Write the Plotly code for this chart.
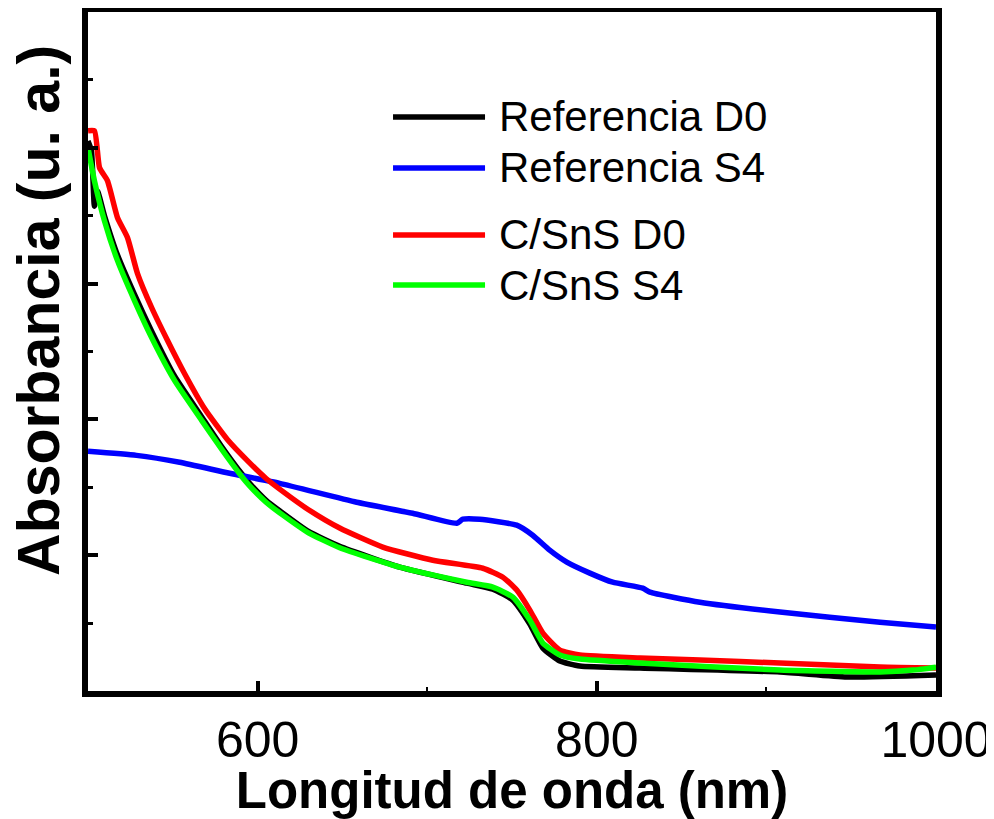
import plotly.graph_objects as go

# ---- data ----
series_names = ["Referencia D0", "Referencia S4", "C/SnS D0", "C/SnS S4"]
series_colors = ["#000000", "#0000FF", "#FF0000", "#00FF00"]

ref_d0_x = [500, 502, 503.8, 505.6, 509.7, 517.4, 527.4, 537.5, 551, 567, 578.8, 590.3, 595.3, 605,
            614.9, 630, 648.4, 683.8, 723.3, 738.7, 750.5, 760.5, 768.2, 778.2, 790, 825.4, 908,
            947.5, 1000]
ref_d0_y = [4.05, 3.98, 3.57, 3.68, 3.5, 3.21, 2.92, 2.65, 2.32, 2.02, 1.80, 1.605, 1.53, 1.405,
            1.31, 1.175, 1.065, 0.912, 0.794, 0.75, 0.669, 0.493, 0.316, 0.221, 0.184, 0.169, 0.14,
            0.103, 0.118]

ref_s4_x = [500, 528.6, 554, 583.5, 613, 658.4, 691.4, 717.4, 721, 731, 752.8, 762.2, 772.2,
            782.3, 795.9, 809.4, 827.1, 831.3, 860.8, 908, 967, 1000]
ref_s4_y = [1.765, 1.735, 1.684, 1.603, 1.529, 1.39, 1.309, 1.235, 1.265, 1.265, 1.221, 1.147, 1.037,
            0.949, 0.868, 0.801, 0.757, 0.728, 0.654, 0.581, 0.507, 0.471]

csns_d0_x = [500, 503.8, 506.8, 511.5, 517.4, 523.3, 529.2, 537.5, 546.9, 556.9, 568.7, 582.3,
             595.3, 605, 614.8, 630, 648.4, 673.8, 703.3, 732.8, 744.6, 752.8, 760.5, 768.2, 778.2,
             790, 825.4, 860.8, 908, 967, 1000]
csns_d0_y = [4.125, 4.125, 3.853, 3.757, 3.485, 3.338, 3.074, 2.824, 2.581, 2.338, 2.08, 1.85,
             1.68, 1.565, 1.47, 1.335, 1.2, 1.06, 0.963, 0.904, 0.838, 0.743, 0.596, 0.426, 0.301,
             0.265, 0.243, 0.228, 0.206, 0.176, 0.169]

csns_s4_x = [500, 503.8, 509.7, 517.4, 527.4, 537.5, 551, 567, 578.8, 590.3, 595.3, 605, 614.9, 630,
             648.4, 683.8, 723.3, 738.7, 750.5, 760.5, 768.2, 778.2, 790, 825.4, 908, 967, 986.4, 1000]
csns_s4_y = [4.0, 3.757, 3.463, 3.169, 2.875, 2.603, 2.287, 1.993, 1.78, 1.585, 1.51, 1.39, 1.295,
             1.165, 1.055, 0.912, 0.801, 0.765, 0.691, 0.522, 0.353, 0.265, 0.235, 0.206, 0.154,
             0.14, 0.154, 0.176]

x_tick_vals = [600, 800, 1000]
x_tick_text = ["600", "800", "1000"]

FONT = "Liberation Sans, Arial, sans-serif"

fig = go.Figure()
all_x = [ref_d0_x, ref_s4_x, csns_d0_x, csns_s4_x]
all_y = [ref_d0_y, ref_s4_y, csns_d0_y, csns_s4_y]
for name, color, xs, ys in zip(series_names, series_colors, all_x, all_y):
    fig.add_trace(go.Scatter(x=xs, y=ys, mode="lines", name=name,
                             line=dict(color=color, width=5.5, shape="spline", smoothing=0.5),
                             showlegend=False))

# manual legend (long line samples like the reference)
legend_y = [0.8454, 0.7703, 0.6716, 0.5979]
for name, color, ly in zip(series_names, series_colors, legend_y):
    fig.add_shape(type="line", xref="paper", yref="paper", x0=0.3597, x1=0.4682, y0=ly, y1=ly,
                  line=dict(color=color, width=5.5))
    fig.add_annotation(xref="paper", yref="paper", x=0.4823, y=ly, text=name, showarrow=False,
                       xanchor="left", yanchor="middle", font=dict(family=FONT, size=42, color="black"))

# y-axis title as annotation (positioned above centre as in the reference)
fig.add_annotation(xref="paper", yref="paper", x=-0.058, y=0.561, text="<b>Absorbancia (u. a.)</b>",
                   textangle=-90, showarrow=False, xanchor="center", yanchor="middle",
                   font=dict(family=FONT, size=59, color="black"))

# page body has an 8px margin, so the figure is shifted; compensate in size and margins
fig.update_layout(
    width=986, height=811,
    margin=dict(l=80, r=58, t=4, b=128, autoexpand=False),
    paper_bgcolor="white", plot_bgcolor="white",
    font=dict(family=FONT, color="black"),
    xaxis=dict(range=[500, 1000], tickmode="array", tickvals=x_tick_vals, ticktext=x_tick_text,
               automargin=False,
               ticks="inside", ticklen=10, tickwidth=4, tickcolor="black",
               minor=dict(ticks="inside", dtick=100, tick0=0, ticklen=4, tickwidth=2, tickcolor="black"),
               showline=True, linewidth=6, linecolor="black", mirror=True, showgrid=False, zeroline=False,
               tickfont=dict(family=FONT, size=50, color="black"), ticklabelstandoff=0,
               title=dict(text="<b>Longitud de onda (nm)</b>", font=dict(family=FONT, size=51, color="black"),
                          standoff=5)),
    yaxis=dict(range=[0, 5], dtick=1, tick0=0, showticklabels=False, automargin=False,
               ticks="inside", ticklen=10, tickwidth=4, tickcolor="black",
               minor=dict(ticks="inside", dtick=0.5, tick0=0, ticklen=5, tickwidth=3, tickcolor="black"),
               showline=True, linewidth=6, linecolor="black", mirror=True, showgrid=False, zeroline=False),
)

fig.write_html("out.html")
